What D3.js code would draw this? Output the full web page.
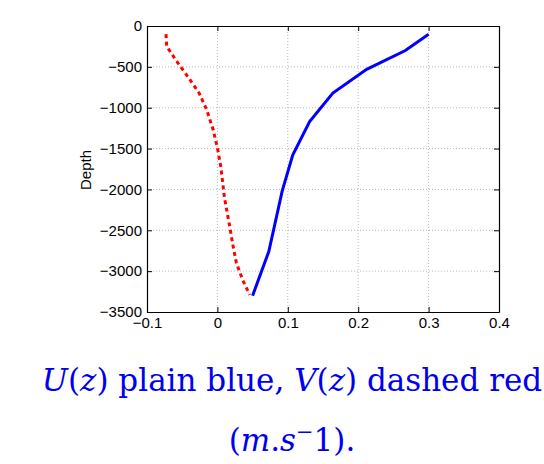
<html>
<head>
<meta charset="utf-8">
<script src="https://d3js.org/d3.v7.min.js"></script>
<style>
  body { margin: 0; background: white; }
</style>
</head>
<body>
<svg id="chart" width="544" height="464"></svg>
<script>
// U(z) profile, plain blue
var uSpeed = [0.300, 0.267, 0.212, 0.164, 0.131, 0.107, 0.092, 0.073, 0.050];
var uDepth = [-100, -300, -530, -820, -1170, -1580, -2020, -2760, -3300];

// V(z) profile, dashed red
var vSpeed = [-0.073, -0.072, -0.058, -0.042, -0.026, -0.015, -0.006, 0.000, 0.005, 0.010, 0.017, 0.022, 0.027, 0.036, 0.046];
var vDepth = [-100, -250, -430, -620, -820, -1030, -1270, -1490, -1730, -2100, -2430, -2680, -2900, -3110, -3290];

var xTicks = [-0.1, 0, 0.1, 0.2, 0.3, 0.4];
var yTicks = [0, -500, -1000, -1500, -2000, -2500, -3000, -3500];

var svg = d3.select('#chart');
var pLeft = 147, pRight = 499, pTop = 26, pBottom = 312;

var x = d3.scaleLinear().domain([-0.1, 0.4]).range([pLeft, pRight]);
var y = d3.scaleLinear().domain([-3500, 0]).range([pBottom, pTop]);

var fmt = function(d) { return d === 0 ? '0' : String(d).replace('-', '\u2212'); };

// grid
svg.append('g').selectAll('line').data(xTicks.slice(1, -1)).enter().append('line')
  .attr('x1', d => x(d)).attr('x2', d => x(d)).attr('y1', pTop).attr('y2', pBottom)
  .attr('stroke', '#aaa').attr('stroke-width', 0.8).attr('stroke-dasharray', '1,2');
svg.append('g').selectAll('line').data(yTicks.slice(1, -1)).enter().append('line')
  .attr('y1', d => y(d)).attr('y2', d => y(d)).attr('x1', pLeft).attr('x2', pRight)
  .attr('stroke', '#aaa').attr('stroke-width', 0.8).attr('stroke-dasharray', '1,2');

// axes (ticks inside, MATLAB style)
var xAxis = svg.append('g').attr('transform', 'translate(0,' + pBottom + ')')
  .call(d3.axisBottom(x).tickValues(xTicks).tickSizeInner(-5).tickSizeOuter(0).tickPadding(8).tickFormat(fmt));
var yAxis = svg.append('g').attr('transform', 'translate(' + pLeft + ',0)')
  .call(d3.axisLeft(y).tickValues(yTicks).tickSizeInner(-5).tickSizeOuter(0).tickPadding(5).tickFormat(fmt));
svg.append('g').attr('transform', 'translate(0,' + pTop + ')')
  .call(d3.axisTop(x).tickValues(xTicks).tickSizeInner(-5).tickSizeOuter(0).tickFormat(''));
svg.append('g').attr('transform', 'translate(' + pRight + ',0)')
  .call(d3.axisRight(y).tickValues(yTicks).tickSizeInner(-5).tickSizeOuter(0).tickFormat(''));

svg.selectAll('.domain').attr('stroke', '#000').attr('stroke-width', 1.2);
svg.selectAll('.tick line').attr('stroke', '#000');
svg.selectAll('.tick text').attr('font-family', 'Liberation Sans, Arial, sans-serif').attr('font-size', 15).attr('fill', '#000');
xAxis.selectAll('.tick text').attr('dy', '0.5em');

// Depth label
svg.append('text').attr('transform', 'translate(91,170) rotate(-90)')
  .attr('text-anchor', 'middle').attr('font-family', 'Liberation Sans, Arial, sans-serif')
  .attr('font-size', 15).text('Depth');

// profiles
var line = d3.line().x(d => x(d[0])).y(d => y(d[1]));
svg.append('path').datum(vSpeed.map((s, i) => [s, vDepth[i]]))
  .attr('d', line).attr('fill', 'none').attr('stroke', '#ff0000')
  .attr('stroke-width', 3).attr('stroke-dasharray', '4,3.5');
svg.append('path').datum(uSpeed.map((s, i) => [s, uDepth[i]]))
  .attr('d', line).attr('fill', 'none').attr('stroke', '#0000ff')
  .attr('stroke-width', 3);

// caption
var cap = svg.append('g').attr('font-family', 'DejaVu Serif, Liberation Serif, serif')
  .attr('font-size', 31).attr('fill', '#0000ee');
var t1 = cap.append('text').attr('x', 292).attr('y', 391).attr('text-anchor', 'middle');
t1.append('tspan').attr('font-style', 'italic').text('U');
t1.append('tspan').text('(');
t1.append('tspan').attr('font-style', 'italic').text('z');
t1.append('tspan').text(') plain blue, ');
t1.append('tspan').attr('font-style', 'italic').text('V');
t1.append('tspan').text('(');
t1.append('tspan').attr('font-style', 'italic').text('z');
t1.append('tspan').text(') dashed red');
var t2 = cap.append('text').attr('x', 292).attr('y', 451).attr('text-anchor', 'middle');
t2.append('tspan').text('(');
t2.append('tspan').attr('font-style', 'italic').text('m');
t2.append('tspan').text('.');
t2.append('tspan').attr('font-style', 'italic').text('s');
t2.append('tspan').attr('font-size', 21).attr('dy', -12).text('\u2212');
t2.append('tspan').attr('dy', 12).text('1).');
</script>
</body>
</html>
